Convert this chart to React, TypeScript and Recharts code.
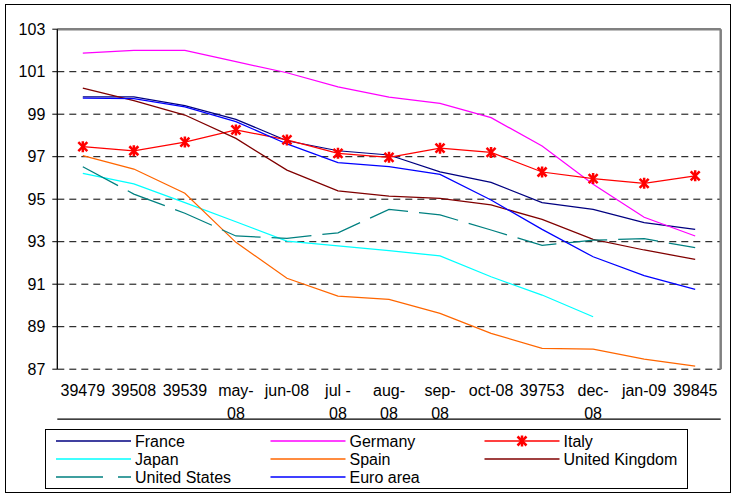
import React from 'react';
import { LineChart, Line, XAxis, YAxis, CartesianGrid, ReferenceLine, Legend } from 'recharts';

const months = ['39479', '39508', '39539', 'may-\n08', 'jun-08', 'jul -\n08', 'aug-\n08', 'sep-\n08', 'oct-08', '39753', 'dec-\n08', 'jan-09', '39845'];
const yTicks = [87, 89, 91, 93, 95, 97, 99, 101, 103];

const france = [99.82, 99.82, 99.4, 98.76, 97.75, 97.28, 97.08, 96.29, 95.79, 94.84, 94.52, 93.9, 93.58];
const germany = [101.87, 102.0, 102.0, 101.47, 100.95, 100.29, 99.8, 99.51, 98.84, 97.5, 95.7, 94.15, 93.27];
const italy = [97.47, 97.28, 97.69, 98.26, 97.79, 97.16, 96.97, 97.4, 97.2, 96.28, 95.97, 95.75, 96.1];
const japan = [96.22, 95.72, 94.84, 93.94, 93.03, 92.8, 92.58, 92.33, 91.35, 90.49, 89.47, null, null];
const spain = [97.05, 96.42, 95.28, 92.97, 91.28, 90.44, 90.29, 89.63, 88.69, 87.98, 87.94, 87.47, 87.15];
const unitedKingdom = [100.23, 99.64, 98.96, 97.86, 96.37, 95.39, 95.15, 95.04, 94.73, 94.05, 93.11, 92.61, 92.17];
const unitedStates = [96.53, 95.24, 94.34, 93.27, 93.16, 93.42, 94.52, 94.26, 93.55, 92.83, 93.07, 93.14, 92.72];
const euroArea = [99.76, 99.73, 99.34, 98.65, 97.6, 96.72, 96.53, 96.17, 94.96, 93.58, 92.29, 91.4, 90.76];

const series = [
  { name: 'France', values: france, color: '#000080' },
  { name: 'Germany', values: germany, color: '#FF00FF' },
  { name: 'Italy', values: italy, color: '#FF0000', star: true },
  { name: 'Japan', values: japan, color: '#00FFFF' },
  { name: 'Spain', values: spain, color: '#FF6600' },
  { name: 'United Kingdom', values: unitedKingdom, color: '#800000' },
  { name: 'United States', values: unitedStates, color: '#008080', dash: '40 11' },
  { name: 'Euro area', values: euroArea, color: '#0000FF' },
];

const data = months.map((m, i) => {
  const row: Record<string, any> = { x: i + 0.5, label: m };
  series.forEach((s) => {
    row[s.name] = s.values[i];
  });
  return row;
});

const boundaryTicks = months.map((_, i) => i).concat([months.length]);
const centerTicks = months.map((_, i) => i + 0.5);

const FONT = '"Liberation Sans", Arial, sans-serif';

const Star = (props: any) => {
  const { cx, cy, stroke } = props;
  if (cx == null || cy == null) return null;
  const r = 4.5;
  return (
    <g stroke={stroke || '#FF0000'} strokeWidth={2.5} strokeLinecap="butt">
      <line x1={cx - r} y1={cy - r} x2={cx + r} y2={cy + r} />
      <line x1={cx - r} y1={cy + r} x2={cx + r} y2={cy - r} />
      <line x1={cx} y1={cy - r - 1} x2={cx} y2={cy + r + 1} />
    </g>
  );
};

const MonthTick = (props: any) => {
  const { x, y, payload } = props;
  const idx = Math.round(payload.value - 0.5);
  const lines = (months[idx] || '').split('\n');
  return (
    <text x={x} y={y} textAnchor="middle" fontSize={16} fontFamily={FONT} fill="#000">
      {lines.map((l, k) => (
        <tspan key={k} x={x} dy={k === 0 ? 27 : 23}>
          {l}
        </tspan>
      ))}
    </text>
  );
};

const colX = [11, 225.5, 439.5];
const rowY = [12, 30, 48];

const LegendBox = () => (
  <svg width={643} height={60} style={{ display: 'block' }}>
    <rect x={0.5} y={0.5} width={642} height={59} fill="#fff" stroke="#000" strokeWidth={1} />
    {series.map((s, k) => {
      const cx0 = colX[k % 3];
      const cy0 = rowY[Math.floor(k / 3)];
      return (
        <g key={s.name}>
          <line
            x1={cx0}
            y1={cy0}
            x2={cx0 + 75}
            y2={cy0}
            stroke={s.color}
            strokeWidth={1.6}
            strokeDasharray={s.dash ? '47 15' : undefined}
          />
          {s.star ? <Star cx={cx0 + 37.5} cy={cy0} stroke={s.color} /> : null}
          <text x={cx0 + 79} y={cy0} dy="0.36em" fontSize={16} fontFamily={FONT} fill="#000">
            {s.name}
          </text>
        </g>
      );
    })}
  </svg>
);

export default function App() {
  return (
    <div style={{ position: 'absolute', left: 0, top: 0, width: 734, height: 493, background: '#fff' }}>
      <div
        style={{
          position: 'absolute',
          left: 5,
          top: 4,
          width: 726,
          height: 489,
          border: '1px solid #000',
          boxSizing: 'border-box',
          pointerEvents: 'none',
        }}
      />
      <LineChart
        width={734}
        height={493}
        data={data}
        margin={{ top: 29.2, left: 5.3, right: 13.3, bottom: 8.8 }}
        style={{ fontFamily: FONT }}
      >
        <CartesianGrid horizontal vertical={false} stroke="#000" strokeDasharray="7 5" />
        <XAxis
          xAxisId="num"
          type="number"
          dataKey="x"
          domain={[0, 13]}
          ticks={boundaryTicks}
          allowDataOverflow
          tick={false}
          tickSize={5}
          height={5}
          axisLine={{ stroke: '#000', strokeWidth: 1.3 }}
          tickLine={{ stroke: '#000' }}
        />
        <XAxis
          xAxisId="lab"
          type="number"
          dataKey="x"
          domain={[0, 13]}
          ticks={centerTicks}
          allowDataOverflow
          axisLine={false}
          tickLine={false}
          tickSize={0}
          tickMargin={0}
          height={50}
          interval={0}
          tick={<MonthTick />}
        />
        <YAxis
          type="number"
          domain={[87, 103]}
          ticks={yTicks}
          allowDataOverflow
          width={52}
          tickSize={5}
          tickMargin={7}
          axisLine={{ stroke: '#000', strokeWidth: 1.3 }}
          tickLine={{ stroke: '#000' }}
          tick={{ fontSize: 16, fill: '#000', fontFamily: FONT }}
        />
        <ReferenceLine xAxisId="num" y={103} stroke="#808080" strokeWidth={2.5} />
        <ReferenceLine xAxisId="num" x={13} stroke="#808080" strokeWidth={2.5} />
        {series.map((s) => (
          <Line
            key={s.name}
            xAxisId="num"
            type="linear"
            dataKey={s.name}
            stroke={s.color}
            strokeWidth={1.25}
            strokeDasharray={s.dash}
            dot={s.star ? <Star stroke={s.color} /> : false}
            activeDot={false}
            connectNulls={false}
            isAnimationActive={false}
          />
        ))}
        <Legend
          verticalAlign="bottom"
          wrapperStyle={{ left: 45, top: 429, width: 643, height: 60 }}
          content={() => <LegendBox />}
        />
      </LineChart>
    </div>
  );
}
